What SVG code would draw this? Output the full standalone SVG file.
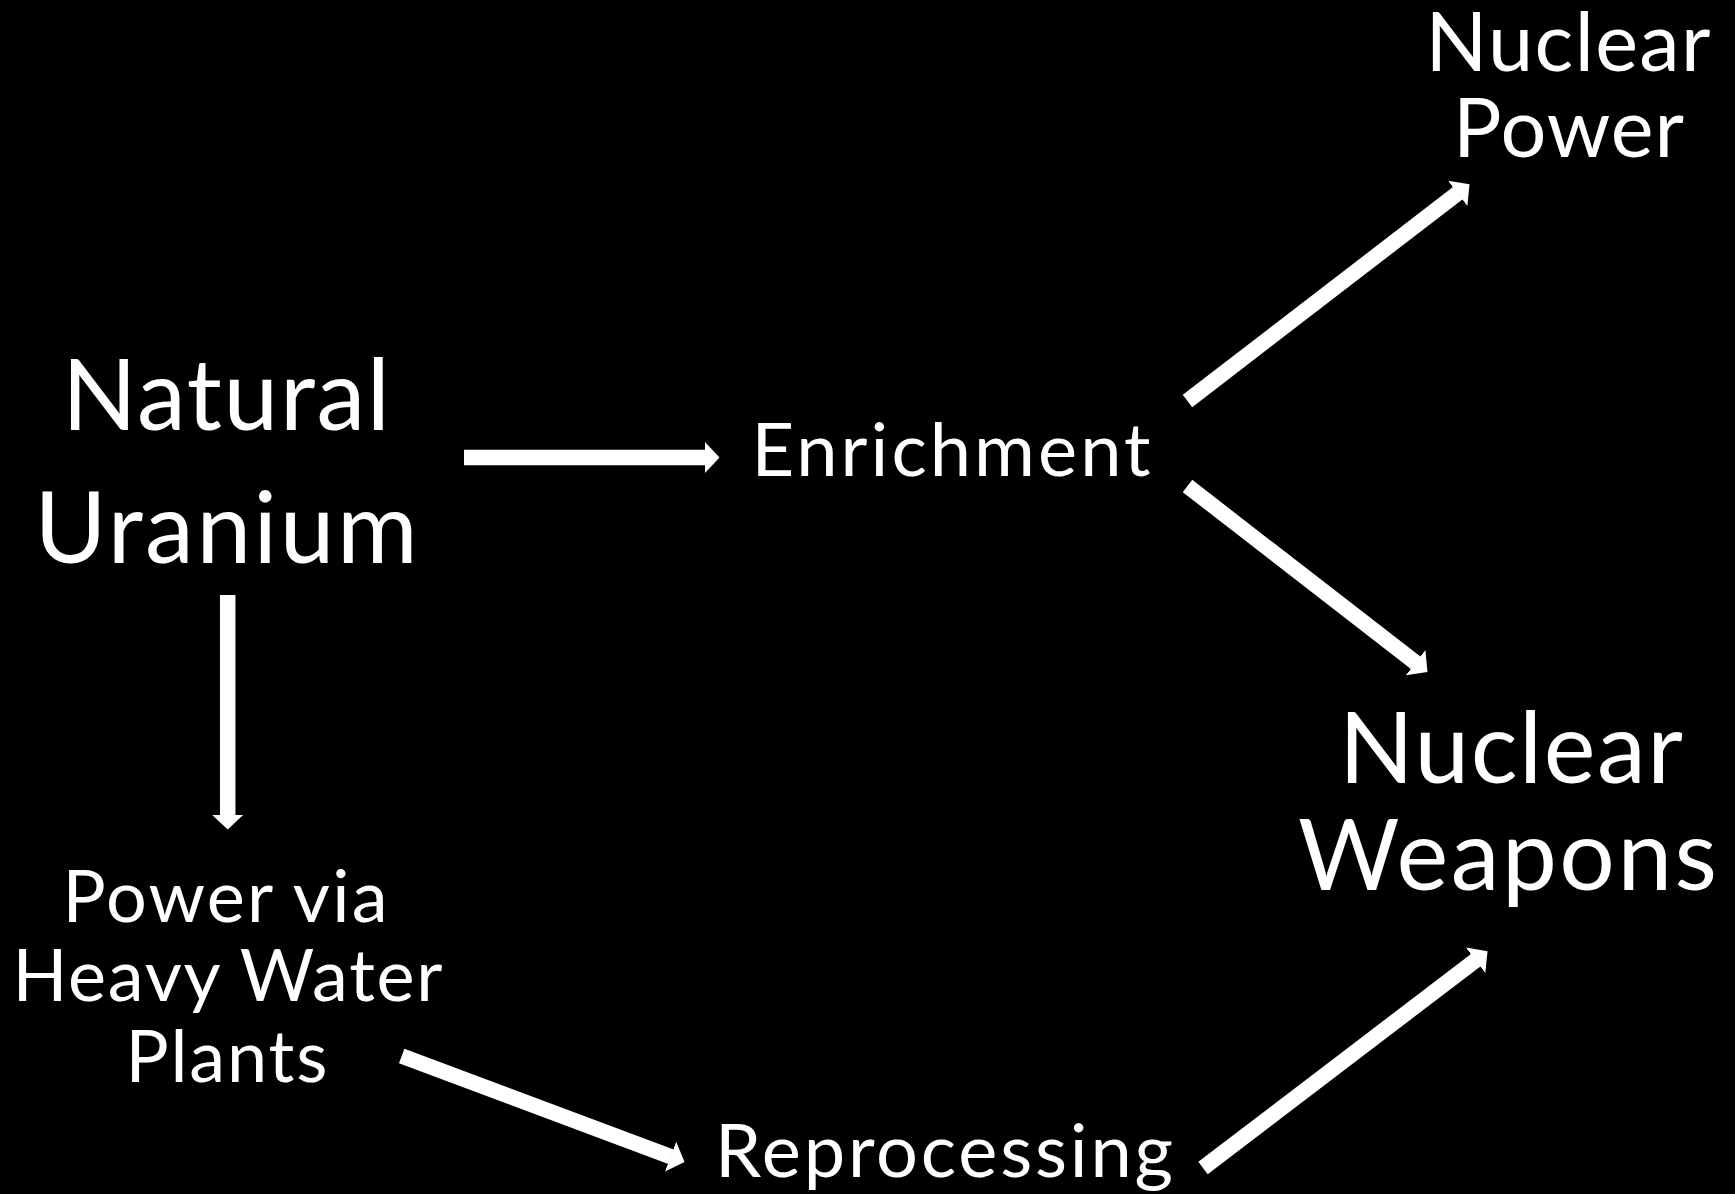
<svg xmlns="http://www.w3.org/2000/svg" width="1735" height="1194" viewBox="0 0 1735 1194">
  <style>
    .lbl { font-family: Lato, "Open Sans", "Liberation Sans", sans-serif; fill: #ffffff; text-anchor: middle; }
    .conn { stroke: #ffffff; stroke-width: 15.5; fill: none; stroke-linecap: butt; marker-end: url(#head); }
  </style>
  <defs>
    <marker id="head" markerUnits="userSpaceOnUse" viewBox="0 0 16 34" markerWidth="16" markerHeight="34" refX="0.5" refY="17" orient="auto">
      <path d="M0,1 L15,17 L0,33 Z" fill="#ffffff"/>
    </marker>
  </defs>
  <rect x="0" y="0" width="1735" height="1194" fill="#000000"/>

  <g id="connectors">
    <line class="conn" x1="464" y1="457.5" x2="705" y2="457.5"/>
    <line class="conn" x1="1187.5" y1="401" x2="1458" y2="193"/>
    <line class="conn" x1="1187.5" y1="486" x2="1416" y2="663"/>
    <line class="conn" x1="227.7" y1="595" x2="227.7" y2="815"/>
    <line class="conn" x1="401.7" y1="1056" x2="671" y2="1156.8"/>
    <line class="conn" x1="1203" y1="1168" x2="1476" y2="960"/>
  </g>

  <g id="natural-uranium">
    <text class="lbl" x="226" y="430" font-size="98" textLength="328">Natural</text>
    <text class="lbl" x="226" y="563" font-size="98" textLength="383">Uranium</text>
  </g>
  <g id="enrichment">
    <text class="lbl" x="951" y="476" font-size="74" textLength="399">Enrichment</text>
  </g>
  <g id="nuclear-power">
    <text class="lbl" x="1568" y="71" font-size="81" textLength="285">Nuclear</text>
    <text class="lbl" x="1568.5" y="157" font-size="81" textLength="231">Power</text>
  </g>
  <g id="nuclear-weapons">
    <text class="lbl" x="1511" y="783" font-size="98" textLength="344">Nuclear</text>
    <text class="lbl" x="1507.5" y="890" font-size="98" textLength="419">Weapons</text>
  </g>
  <g id="heavy-water">
    <text class="lbl" x="225" y="922" font-size="72" textLength="325">Power via</text>
    <text class="lbl" x="227.5" y="1001" font-size="72" textLength="430">Heavy Water</text>
    <text class="lbl" x="226.5" y="1082" font-size="72" textLength="202">Plants</text>
  </g>
  <g id="reprocessing">
    <text class="lbl" x="944" y="1177" font-size="74" textLength="458">Reprocessing</text>
  </g>
</svg>
